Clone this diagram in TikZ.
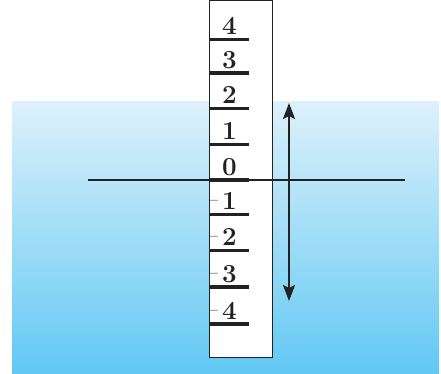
\documentclass[tikz,border=0pt]{standalone}
\usepackage{fontspec}
\usetikzlibrary{arrows.meta}
\definecolor{watertop}{HTML}{DDF1FB}
\definecolor{waterbot}{HTML}{62C8F3}
\definecolor{ink}{HTML}{222222}
\begin{document}
\begin{tikzpicture}[x=1pt,y=-1pt,
  tickline/.style={line width=3.5pt,ink},
  numlab/.style={font=\fontsize{26}{26}\selectfont\bfseries,text=ink,inner sep=0pt,anchor=base},
  minuslab/.style={font=\fontsize{14}{14}\selectfont\bfseries,text=ink,inner sep=0pt,anchor=base},
  axisline/.style={line width=2pt,ink},
  dblarrow/.style={line width=2.2pt,ink,{Stealth[length=16pt,width=12pt,inset=3pt]}-{Stealth[length=16pt,width=12pt,inset=3pt]}}]
\useasboundingbox (0,0) rectangle (441,373);
% water
\node[draw=none,minimum width=427pt,minimum height=272pt,inner sep=0pt,anchor=north west,
  top color=watertop,bottom color=waterbot] (water) at (12,101) {};
% pole
\node[draw=ink,line width=0.8pt,fill=white,minimum width=63.5pt,minimum height=357pt,inner sep=0pt,anchor=north west] (pole) at (208.5,0) {};
% ticks
\foreach \n/\y in {4/39.5,3/73,2/108.5,1/144.5,0/180,-1/214.5,-2/250.5,-3/287,-4/324}{
  \coordinate (tl\n) at (209.5,\y);
  \coordinate (tr\n) at (248.5,\y);
  \draw[tickline] (tl\n) -- (tr\n);
}
% labels
\foreach \n/\y in {4/39.5,3/73,2/108.5,1/144.5,0/180}{
  \node[numlab] (lab\n) at (229.5,\y-5) {\n};
}
\foreach \n/\y in {1/214.5,2/250.5,3/287,4/324}{
  \node[numlab] (labm\n) at (229.5,\y-5) {\n};
  \node[minuslab] (min\n) at (214,\y-10) {\textendash};
}
% horizontal line
\coordinate (hl) at (88,180);
\coordinate (hr) at (405,180);
\draw[axisline] (hl) -- (hr);
% arrow
\coordinate (atop) at (289,103);
\coordinate (abot) at (289,301);
\draw[dblarrow] (abot) -- (atop);
\end{tikzpicture}
\end{document}
